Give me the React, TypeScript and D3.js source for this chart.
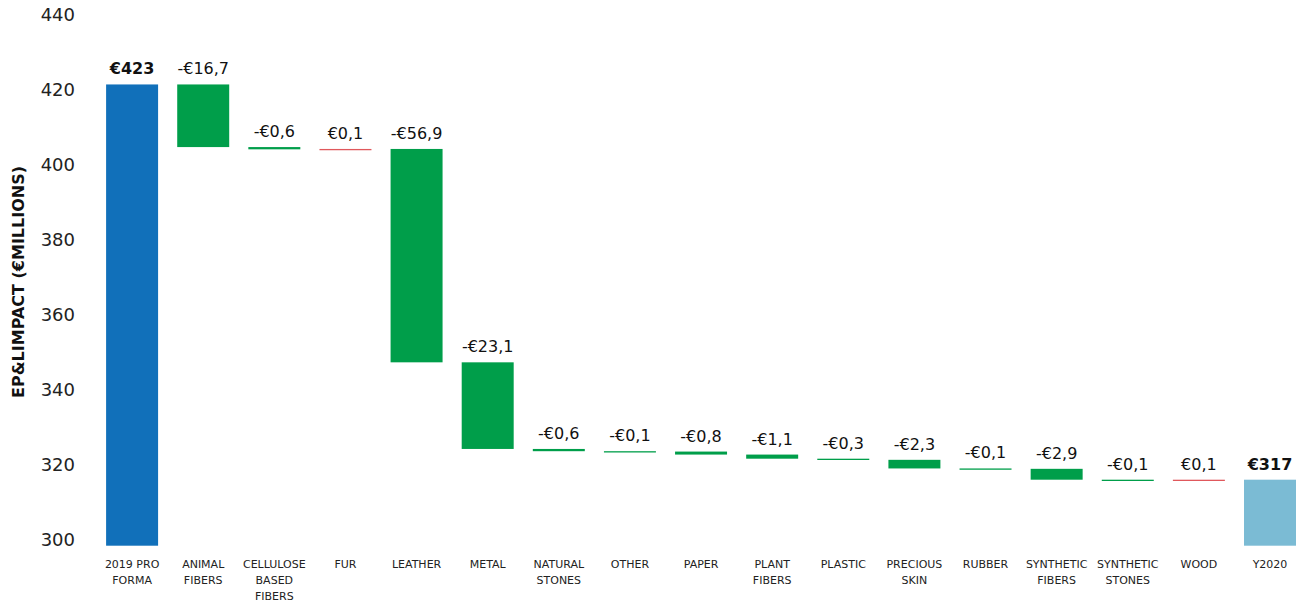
import React from "react";
import * as d3 from "d3";

const categories = [
  "2019 PRO FORMA", "ANIMAL FIBERS", "CELLULOSE BASED FIBERS", "FUR", "LEATHER", "METAL",
  "NATURAL STONES", "OTHER", "PAPER", "PLANT FIBERS", "PLASTIC", "PRECIOUS SKIN", "RUBBER",
  "SYNTHETIC FIBERS", "SYNTHETIC STONES", "WOOD", "Y2020",
];
const categoryLines = [
  ["2019 PRO", "FORMA"], ["ANIMAL", "FIBERS"], ["CELLULOSE", "BASED", "FIBERS"], ["FUR"], ["LEATHER"], ["METAL"],
  ["NATURAL", "STONES"], ["OTHER"], ["PAPER"], ["PLANT", "FIBERS"], ["PLASTIC"], ["PRECIOUS", "SKIN"], ["RUBBER"],
  ["SYNTHETIC", "FIBERS"], ["SYNTHETIC", "STONES"], ["WOOD"], ["Y2020"],
];
const startValue = 423;
const deltas = [-16.7, -0.6, 0.1, -56.9, -23.1, -0.6, -0.1, -0.8, -1.1, -0.3, -2.3, -0.1, -2.9, -0.1, 0.1];
const endLabel = "€317";
const startLabel = "€423";
const yTicks = [300, 320, 340, 360, 380, 400, 420, 440];

const W = 1306, H = 605;
const FONT = "'DejaVu Sans', sans-serif";

export default function App() {
  const x = d3.scaleBand<string>().domain(categories).range([96.5, 1305.6]).paddingInner(0.269).paddingOuter(0.135);
  const y = d3.scaleLinear().domain([300, 440]).range([545.7, 20.7]);

  type Bar = { cat: string; lo: number; hi: number; color: string; label: string; bold: boolean };
  const bars: Bar[] = [];
  bars.push({ cat: categories[0], lo: 300, hi: startValue, color: "#1170BA", label: startLabel, bold: true });
  let run = startValue;
  deltas.forEach((d, i) => {
    const next = run + d;
    const fmt = (d < 0 ? "-" : "") + "€" + Math.abs(d).toFixed(1).replace(".", ",");
    bars.push({ cat: categories[i + 1], lo: Math.min(run, next), hi: Math.max(run, next), color: d < 0 ? "#009E4A" : "#E0585C", label: fmt, bold: false });
    run = next;
  });
  bars.push({ cat: categories[categories.length - 1], lo: 300, hi: run, color: "#7BBBD4", label: endLabel, bold: true });

  const bw = x.bandwidth();

  return (
    <svg width={W} height={H} style={{ position: "absolute", left: 0, top: 0, background: "#fff" }} fontFamily={FONT}>
      {yTicks.map((t) => (
        <text key={t} x={75} y={y(t) - 5} textAnchor="end" dominantBaseline="middle" fontSize={18} fill="#222">
          {t}
        </text>
      ))}
      <text transform={`translate(24,282) rotate(-90)`} textAnchor="middle" fontSize={16} fontWeight="bold" fill="#111">
        EP&LIMPACT (€MILLIONS)
      </text>
      {bars.map((b) => {
        const top = y(b.hi);
        const h = Math.max(y(b.lo) - top, 1.3);
        const x0 = x(b.cat)!;
        return (
          <g key={b.cat}>
            <rect x={x0} y={top} width={bw} height={h} fill={b.color} />
            <text x={x0 + bw / 2} y={top - 10} textAnchor="middle" fontSize={16} fontWeight={b.bold ? "bold" : "normal"} fill="#111">
              {b.label}
            </text>
          </g>
        );
      })}
      {categories.map((c, i) => (
        <text key={c} x={x(c)! + bw / 2} y={567.5} textAnchor="middle" fontSize={11} fill="#222">
          {categoryLines[i].map((l, j) => (
            <tspan key={j} x={x(c)! + bw / 2} dy={j === 0 ? 0 : 16}>{l}</tspan>
          ))}
        </text>
      ))}
    </svg>
  );
}
